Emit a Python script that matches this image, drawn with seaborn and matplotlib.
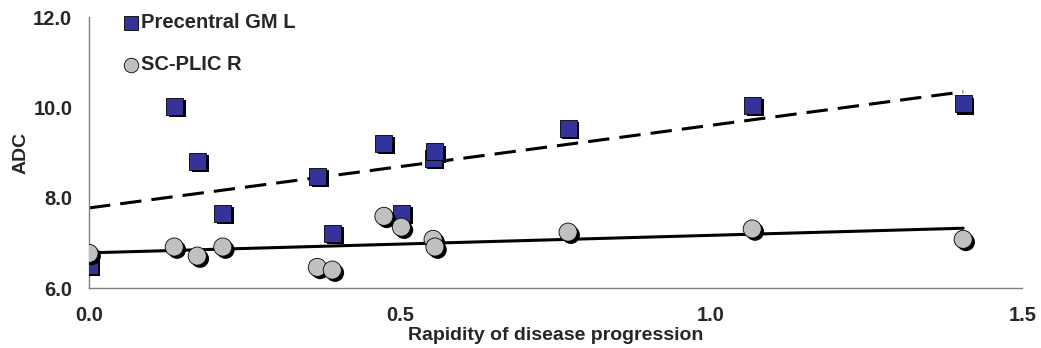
import numpy as np
import pandas as pd
import seaborn as sns
import matplotlib.pyplot as plt
import matplotlib.patheffects as pe

# Rapidity of disease progression (x) and ADC values
rapidity = [0.0, 0.137, 0.174, 0.215, 0.367, 0.391, 0.474, 0.502, 0.553, 0.556, 0.770, 1.066, 1.405]
precentral_gm_l = [6.51, 10.03, 8.81, 7.66, 8.48, 7.22, 9.21, 7.66, 8.88, 9.03, 9.54, 10.05, 10.09]
sc_plic_r = [6.77, 6.91, 6.71, 6.91, 6.46, 6.40, 7.59, 7.35, 7.08, 6.91, 7.24, 7.31, 7.08]

x_ticks = [0.0, 0.5, 1.0, 1.5]
y_ticks = [6.0, 8.0, 10.0, 12.0]

df = pd.DataFrame({
    "rapidity": rapidity,
    "Precentral GM L": precentral_gm_l,
    "SC-PLIC R": sc_plic_r,
})

sns.set_style("white")
plt.rcParams["font.family"] = ["Liberation Sans", "DejaVu Sans"]
plt.rcParams["font.weight"] = "bold"

fig, ax = plt.subplots(figsize=(10.41, 3.48), dpi=100)
fig.subplots_adjust(left=0.0855, right=0.982, top=0.951, bottom=0.172)

shadow = [pe.SimplePatchShadow(offset=(2, -2), shadow_rgbFace="black", alpha=1.0), pe.Normal()]

# regression lines
sns.regplot(data=df, x="rapidity", y="Precentral GM L", scatter=False, ci=None, ax=ax,
            line_kws=dict(color="black", lw=2.2, ls=(0, (7, 3.3))))
sns.regplot(data=df, x="rapidity", y="SC-PLIC R", scatter=False, ci=None, ax=ax,
            line_kws=dict(color="black", lw=2.2))

sns.scatterplot(data=df, x="rapidity", y="Precentral GM L", marker="s", s=150,
                color="#333399", edgecolor="black", linewidth=0.6, ax=ax,
                label="Precentral GM L", zorder=3)
sns.scatterplot(data=df, x="rapidity", y="SC-PLIC R", marker="o", s=170,
                color="#c0c0c0", edgecolor="black", linewidth=0.6, ax=ax,
                label="SC-PLIC R", zorder=3)
for coll in ax.collections:
    coll.set_path_effects(shadow)

ax.set_xlim(0, 1.5)
ax.set_ylim(6.0, 12.0)
ax.set_xticks(x_ticks)
ax.set_yticks(y_ticks)
ax.set_xticklabels([f"{t:.1f}" for t in x_ticks], fontsize=14.5, fontweight="bold")
ax.set_yticklabels([f"{t:.1f}" for t in y_ticks], fontsize=14.5, fontweight="bold")
ax.set_xlabel("Rapidity of disease progression", fontsize=14, fontweight="bold", labelpad=1)
ax.set_ylabel("ADC", fontsize=14, fontweight="bold", labelpad=3)

for side in ["top", "right"]:
    ax.spines[side].set_visible(False)
for side in ["left", "bottom"]:
    ax.spines[side].set_color("#808080")
    ax.spines[side].set_linewidth(1.0)
ax.tick_params(axis="x", direction="out", length=5, color="#808080", width=1, pad=8)
ax.tick_params(axis="y", direction="out", length=5, color="#808080", width=1, pad=7)

leg = ax.legend(loc="upper left", bbox_to_anchor=(0.021, 1.066), frameon=False, fontsize=14.5,
                handlelength=0.8, handletextpad=0.1, labelspacing=1.15,
                markerscale=0.8, borderpad=0.2)
for h in leg.legend_handles:
    h.set_path_effects([])
for t in leg.get_texts():
    t.set_fontweight("bold")

plt.savefig("out.png", dpi=100)
